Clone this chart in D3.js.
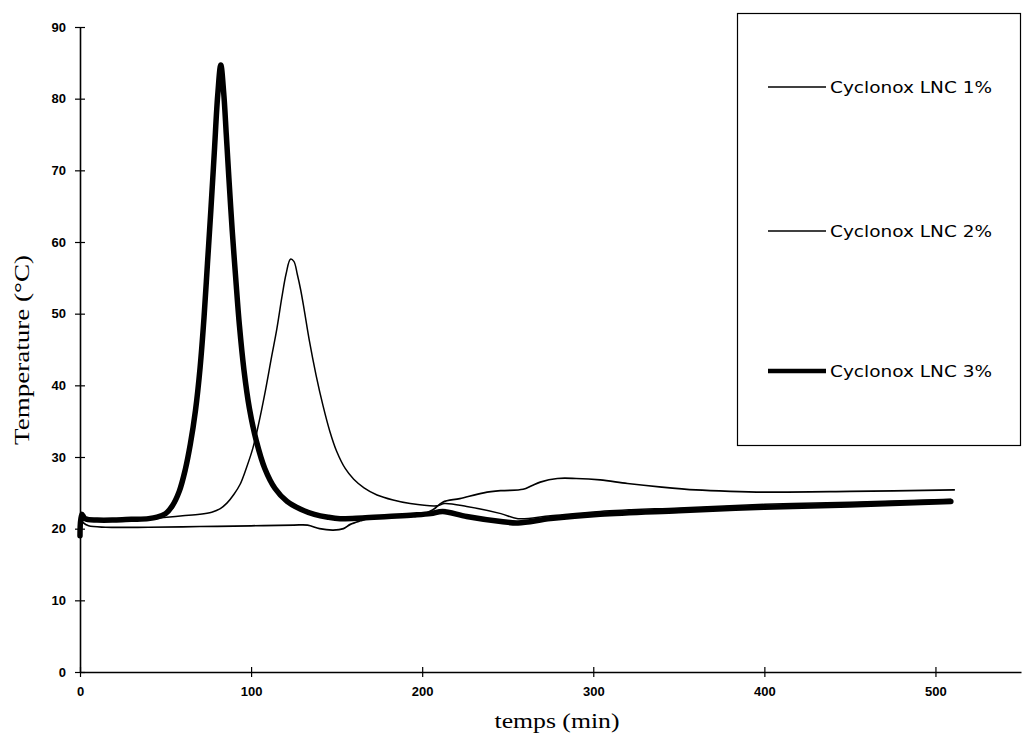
<!DOCTYPE html>
<html>
<head>
<meta charset="utf-8">
<script src="https://cdn.jsdelivr.net/npm/d3@7"></script>
<style>
  html, body { margin: 0; padding: 0; background: #fff; }
  svg { display: block; }
</style>
</head>
<body>
<svg id="chart" width="1028" height="754"></svg>
<script>
// ---- data ----
const seriesNames = ["Cyclonox LNC 1%", "Cyclonox LNC 2%", "Cyclonox LNC 3%"];
const xTicks = [0, 100, 200, 300, 400, 500];
const yTicks = [0, 10, 20, 30, 40, 50, 60, 70, 80, 90];

const lnc1 = [[0,21.6],[2,20.8],[5,20.4],[15,20.2],[40,20.2],[70,20.3],[100,20.4],[125,20.5],[133,20.5],[140,20.0],[148,19.8],[154,20.0],[158,20.6],[164,21.1],[170,21.5],[185,21.8],[200,22.0],[206,22.6],[212,23.7],[222,24.2],[236,25.0],[246,25.3],[259,25.5],[264,26.0],[269,26.5],[279,27.0],[290,27.0],[304,26.8],[320,26.3],[340,25.8],[360,25.4],[380,25.2],[400,25.1],[450,25.2],[511,25.4]];

const lnc2 = [[0,19.5],[1,21.8],[3,21.4],[10,21.2],[20,21.2],[30,21.3],[40,21.4],[50.7,21.6],[60,21.8],[70,22.0],[77,22.3],[82,22.8],[86,23.6],[90,24.8],[93.6,26.2],[97,28.3],[101,31.2],[104.3,34.5],[108,38.8],[112,44],[115,47.8],[118,52.3],[120.5,55.6],[123,57.6],[125,57.3],[127,55.5],[129,53.3],[131,50.6],[134,46.3],[138,41.4],[142,37.2],[146,33.6],[150,30.8],[155,28.4],[160,26.9],[166,25.7],[173.6,24.7],[183,24.0],[193,23.5],[209,23.2],[213,23.5],[226,23.1],[246,22.1],[256,21.4],[275,21.8],[304,22.4],[350,22.9],[400,23.4],[450,23.7],[509,24.1]];

const lnc3 = [[0,19.0],[1,22.0],[3,21.4],[10,21.2],[20,21.2],[30,21.3],[40,21.4],[45,21.6],[50,22.1],[54,23.2],[58,25.2],[61.5,28.2],[64.5,31.8],[67.5,36.5],[70.2,42.5],[72.5,49.5],[74.5,57],[76.5,64.5],[78.5,72.5],[80.5,80.5],[82.3,84.7],[84,80.8],[85.5,75],[87,69],[89,61.5],[91,55],[93.2,48.3],[95.8,42.2],[99,36.8],[103,32.3],[108,28.4],[114,25.6],[121,23.8],[129,22.7],[137,22.0],[145,21.6],[152,21.4],[165,21.5],[180,21.7],[195,21.9],[205,22.1],[212,22.4],[226,21.7],[246,21.0],[256,20.8],[275,21.4],[304,22.0],[350,22.5],[400,23.0],[450,23.3],[509,23.8]];

const seriesData = [lnc1, lnc2, lnc3];
const seriesWidths = [1.7, 1.5, 5.5];

// ---- layout ----
const svg = d3.select("#chart");
const mLeft = 80, mRight = 1021, mTop = 27, mBottom = 672;

const x = d3.scaleLinear().domain([0, 550]).range([mLeft, mRight]);
const y = d3.scaleLinear().domain([0, 90]).range([mBottom, mTop]);

// axes
const xAxis = d3.axisBottom(x).tickValues(xTicks).tickSizeInner(5).tickSizeOuter(0).tickPadding(10);
const yAxis = d3.axisLeft(y).tickValues(yTicks).tickSizeInner(5).tickSizeOuter(0).tickPadding(10);

const gx = svg.append("g").attr("transform", `translate(0,${mBottom})`).call(xAxis);
const gy = svg.append("g").attr("transform", `translate(${mLeft},0)`).call(yAxis);

[gx, gy].forEach(g => {
  g.select(".domain").attr("stroke", "#000").attr("stroke-width", 1.6);
  g.selectAll(".tick line").attr("stroke", "#000").attr("stroke-width", 1.2);
  g.selectAll(".tick text")
    .attr("fill", "#000")
    .attr("font-family", "Liberation Sans, Arial, sans-serif")
    .attr("font-weight", "bold")
    .attr("font-size", 13);
});
// cross-style ticks (both sides of axis)
gx.selectAll(".tick line").attr("y1", -5).attr("y2", 5);
gy.selectAll(".tick line").attr("x1", -5).attr("x2", 5);
gy.selectAll(".tick text").attr("x", -14);

// lines
const line = d3.line().x(d => x(d[0])).y(d => y(d[1])).curve(d3.curveCatmullRom.alpha(0.5));
seriesData.forEach((s, i) => {
  svg.append("path")
    .datum(s)
    .attr("fill", "none")
    .attr("stroke", "#000")
    .attr("stroke-width", seriesWidths[i])
    .attr("stroke-linejoin", "round")
    .attr("stroke-linecap", "round")
    .attr("d", line);
});

// axis titles
svg.append("text")
  .attr("x", 557).attr("y", 728)
  .attr("text-anchor", "middle")
  .attr("font-family", "Liberation Serif, Times New Roman, serif")
  .attr("font-size", 21)
  .attr("textLength", 125).attr("lengthAdjust", "spacingAndGlyphs")
  .text("temps (min)");

svg.append("text")
  .attr("transform", "translate(29,350) rotate(-90)")
  .attr("text-anchor", "middle")
  .attr("font-family", "Liberation Serif, Times New Roman, serif")
  .attr("font-size", 21)
  .attr("textLength", 190).attr("lengthAdjust", "spacingAndGlyphs")
  .text("Temperature (°C)");

// legend
const lg = svg.append("g");
lg.append("rect")
  .attr("x", 737.5).attr("y", 13.5).attr("width", 283).attr("height", 432)
  .attr("fill", "#fff").attr("stroke", "#000").attr("stroke-width", 1.2);
const legendY = [87, 231, 371];
const legendWidths = [1.7, 1.5, 4.5];
seriesNames.forEach((name, i) => {
  lg.append("line")
    .attr("x1", 768).attr("x2", 826)
    .attr("y1", legendY[i]).attr("y2", legendY[i])
    .attr("stroke", "#000").attr("stroke-width", legendWidths[i]);
  lg.append("text")
    .attr("x", 830).attr("y", legendY[i] + 6)
    .attr("font-family", "DejaVu Sans, Liberation Sans, sans-serif")
    .attr("font-size", 16)
    .attr("textLength", 162).attr("lengthAdjust", "spacingAndGlyphs")
    .text(name);
});
</script>
</body>
</html>
